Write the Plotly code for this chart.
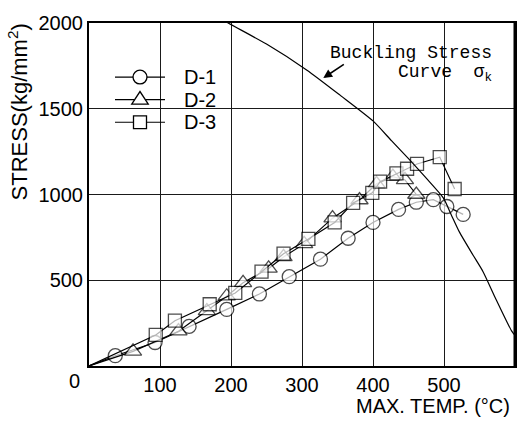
import plotly.graph_objects as go

# ---- data ----
d1_temp = [0, 37, 93, 141, 194, 240, 282, 326, 365, 400, 436, 461, 485, 504, 527]
d1_stress = [0, 60, 137, 231, 330, 420, 521, 623, 745, 837, 913, 955, 970, 930, 884]

d2_temp = [0, 62, 126, 166, 194, 217, 253, 274, 303, 343, 381, 405, 428, 445, 461]
d2_stress = [0, 85, 203, 321, 407, 485, 569, 636, 712, 862, 968, 1062, 1104, 1085, 1000]

d3_temp = [0, 94, 121, 170, 206, 243, 274, 309, 346, 372, 399, 410, 433, 448, 462, 494, 515]
d3_stress = [0, 181, 264, 360, 426, 550, 655, 741, 837, 951, 1010, 1075, 1123, 1150, 1178, 1218, 1032]

curve_temp = [180, 196, 250, 307, 354, 400, 426, 452, 475, 499, 510, 522, 541, 555, 572, 595, 600]
curve_stress = [2040, 2000, 1877, 1725, 1578, 1429, 1314, 1200, 1095, 980, 884, 779, 646, 550, 400, 206, 178]

series_names = ["D-1", "D-2", "D-3"]
x_ticks = [100, 200, 300, 400, 500, 600]
y_ticks = [500, 1000, 1500, 2000]

FONT = "Liberation Sans"
MONO = "Liberation Mono"

# plot-area geometry in pixels (for paper-coordinate helpers)
W, H = 531, 422
ML, MR, MT, MB = 89, 16, 17, 56
PW, PH = W - ML - MR, H - MT - MB


def px(x):
    return (x - ML) / PW


def py(y):
    return (H - MB - y) / PH


fig = go.Figure()

series = [
    (series_names[0], d1_temp, d1_stress, "circle", 14),
    (series_names[1], d2_temp, d2_stress, "triangle-up", 15),
    (series_names[2], d3_temp, d3_stress, "square", 13),
]
for name, xs, ys, sym, size in series:
    sizes = [0] + [size] * (len(xs) - 1)
    fig.add_trace(go.Scatter(
        x=xs, y=ys, name=name, mode="lines+markers",
        line=dict(color="black", width=1.2),
        marker=dict(symbol=sym, size=sizes, color="white",
                    line=dict(color="black", width=1.3)),
        showlegend=False,
    ))

fig.add_trace(go.Scatter(
    x=curve_temp, y=curve_stress, mode="lines", showlegend=False, name="Buckling Stress Curve",
    line=dict(color="black", width=1.2, shape="spline", smoothing=0.6),
))

fig.update_layout(
    width=W, height=H,
    margin=dict(l=ML, r=MR, t=MT, b=MB),
    paper_bgcolor="white", plot_bgcolor="white",
    font=dict(family=FONT, size=20, color="black"),
    showlegend=False,
)
fig.update_xaxes(
    range=[0, 600], tickvals=x_ticks, ticktext=[str(v) for v in x_ticks],
    showgrid=True, gridcolor="#1a1a1a", gridwidth=1.2,
    showline=True, linecolor="black", linewidth=2, mirror=True,
    ticks="", zeroline=False, tickfont=dict(size=20),
)
fig.update_yaxes(
    range=[0, 2000], tickvals=y_ticks, ticktext=[str(v) for v in y_ticks],
    showgrid=True, gridcolor="#1a1a1a", gridwidth=1.2,
    showline=True, linecolor="black", linewidth=2, mirror=True,
    ticks="", zeroline=False, tickfont=dict(size=20),
)

# white boxes behind the annotation text and the legend (hide gridlines only)
fig.add_shape(type="rect", xref="paper", yref="paper",
              x0=px(322), x1=px(508), y0=py(96), y1=py(25),
              fillcolor="white", line=dict(width=0), layer="between")
fig.add_shape(type="rect", xref="paper", yref="paper",
              x0=px(110), x1=px(234), y0=py(140), y1=py(50),
              fillcolor="white", line=dict(width=0), layer="between")
# thicker right border
fig.add_shape(type="line", xref="paper", yref="paper", x0=1, x1=1, y0=0, y1=1,
              line=dict(color="black", width=3))

# ---- hand-drawn legend ----
legend_rows = [72, 95, 118]
lx0, lx1, lxc, ltext = 115, 165, 140, 182
for name, (_, _, _, sym, size), ry in zip(series_names, series, legend_rows):
    fig.add_shape(type="line", xref="paper", yref="paper",
                  x0=px(lx0), x1=px(lx1), y0=py(ry), y1=py(ry),
                  line=dict(color="black", width=1.2))
    r = size / 2
    if sym == "circle":
        fig.add_shape(type="circle", xref="paper", yref="paper",
                      x0=px(lxc - r), x1=px(lxc + r), y0=py(ry + r), y1=py(ry - r),
                      fillcolor="white", line=dict(color="black", width=1.3))
    elif sym == "square":
        fig.add_shape(type="rect", xref="paper", yref="paper",
                      x0=px(lxc - r), x1=px(lxc + r), y0=py(ry + r), y1=py(ry - r),
                      fillcolor="white", line=dict(color="black", width=1.3))
    else:
        path = (f"M {px(lxc - r * 1.1)} {py(ry + r * 0.6)} "
                f"L {px(lxc + r * 1.1)} {py(ry + r * 0.6)} "
                f"L {px(lxc)} {py(ry - r * 1.1)} Z")
        fig.add_shape(type="path", xref="paper", yref="paper", path=path,
                      fillcolor="white", line=dict(color="black", width=1.3))
    fig.add_annotation(xref="paper", yref="paper", x=px(ltext), y=py(ry),
                       text=name, showarrow=False, xanchor="left", yanchor="middle",
                       font=dict(size=20))

fig.add_annotation(xref="paper", yref="paper", x=px(494), y=py(48),
                   text="Buckling Stress", showarrow=False, xanchor="right", yanchor="middle",
                   font=dict(family=MONO, size=18, color="black"))
fig.add_annotation(xref="paper", yref="paper", x=px(494), y=py(68),
                   text="Curve  σ<sub>k</sub>", showarrow=False, xanchor="right", yanchor="middle",
                   font=dict(family=MONO, size=18, color="black"))
fig.add_annotation(x=330, y=1679, ax=361, ay=1765, axref="x", ayref="y", xref="x", yref="y",
                   text="", showarrow=True, arrowhead=2, arrowsize=1.1, arrowwidth=1.6,
                   arrowcolor="black")

fig.add_annotation(xref="paper", yref="paper", x=px(74), y=py(381),
                   text="0", showarrow=False, xanchor="center", yanchor="middle",
                   font=dict(size=20))
fig.add_annotation(xref="paper", yref="paper", x=px(512), y=py(407),
                   text="MAX. TEMP. (°C)", showarrow=False, xanchor="right", yanchor="middle",
                   font=dict(size=20))
fig.add_annotation(xref="paper", yref="paper", x=px(18), y=py(108),
                   text="STRESS(kg/mm<sup>2</sup>)", showarrow=False, textangle=-90,
                   xanchor="center", yanchor="middle", font=dict(size=22))

fig.write_html("out.html", config={"displayModeBar": False},
               post_script="document.body.style.margin='0';document.body.style.padding='0';")
